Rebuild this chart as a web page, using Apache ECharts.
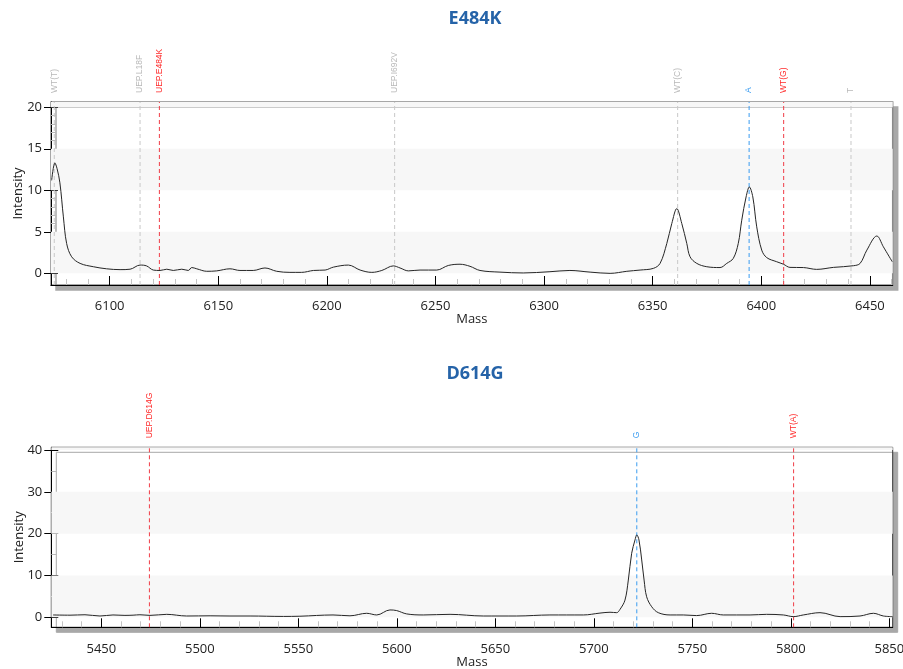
<!DOCTYPE html>
<html>
<head>
<meta charset="utf-8">
<script src="https://cdn.jsdelivr.net/npm/echarts@6/dist/echarts.min.js"></script>
<style>
html,body{margin:0;padding:0;background:#fff;}
#chart{width:903px;height:669px;}
</style>
</head>
<body>
<div id="chart"></div>
<script>
// ---------- E484K panel ----------
const topTitle = 'E484K';
const topMass = [6073.3, 6074.8, 6075.8, 6077.1, 6078.7, 6080.2, 6082.5, 6086.4, 6092.5, 6098.6, 6104.8, 6109.4, 6114.0, 6117.0, 6120.1, 6123.2, 6126.3, 6129.3, 6133.2, 6136.2, 6137.8, 6140.1, 6144.7, 6149.3, 6155.4, 6160.0, 6166.1, 6171.5, 6176.9, 6183.0, 6188.4, 6193.8, 6199.2, 6203.0, 6209.9, 6215.3, 6220.7, 6225.3, 6230.6, 6233.7, 6237.5, 6242.9, 6250.6, 6255.9, 6261.3, 6265.9, 6270.5, 6279.7, 6290.4, 6302.7, 6311.9, 6321.2, 6330.4, 6338.1, 6344.2, 6350.3, 6353.4, 6356.5, 6358.8, 6361.1, 6363.4, 6365.7, 6367.2, 6370.3, 6374.9, 6381.0, 6384.1, 6387.1, 6389.4, 6391.0, 6393.0, 6394.5, 6396.1, 6397.9, 6400.2, 6402.5, 6407.1, 6410.2, 6413.2, 6419.4, 6425.5, 6433.2, 6442.4, 6445.5, 6448.6, 6453.2, 6456.2, 6460.3];
const topIntensity = [11.2, 13.3, 12.6, 10.9, 6.8, 3.6, 2.0, 1.2, 0.8, 0.55, 0.45, 0.5, 1.0, 0.9, 0.4, 0.35, 0.5, 0.35, 0.5, 0.35, 0.7, 0.55, 0.25, 0.3, 0.55, 0.35, 0.35, 0.65, 0.25, 0.12, 0.12, 0.35, 0.4, 0.75, 1.0, 0.4, 0.12, 0.35, 0.9, 0.65, 0.3, 0.4, 0.4, 0.95, 1.1, 0.85, 0.35, 0.15, 0.05, 0.2, 0.35, 0.15, 0.0, 0.25, 0.4, 0.6, 1.2, 3.6, 6.0, 7.8, 6.0, 3.6, 2.0, 1.2, 0.8, 0.7, 1.2, 1.8, 3.6, 6.4, 9.2, 10.4, 9.2, 5.6, 2.8, 1.9, 1.4, 1.1, 0.72, 0.7, 0.48, 0.72, 0.92, 1.2, 2.8, 4.5, 3.2, 1.4];
const topMarkerNames = ['WT(T)', 'UEP.L18F', 'UEP.E484K', 'UEP.I692V', 'WT(C)', 'A', 'WT(G)', 'T'];
const topMarkerMass = [6074.5, 6114.0, 6122.9, 6231.2, 6361.5, 6394.4, 6410.3, 6441.3];
const topMarkerKind = ['grey', 'grey', 'red', 'grey', 'grey', 'blue', 'red', 'grey'];
const topXTicks = [6100, 6150, 6200, 6250, 6300, 6350, 6400, 6450];
const topYTicks = [0, 5, 10, 15, 20];
const topXRange = [6073, 6460.5];
const topYRange = [-1.4, 20.63];

// ---------- D614G panel ----------
const botTitle = 'D614G';
const botMass = [5425.5, 5434.1, 5441.7, 5449.3, 5455.9, 5462.0, 5466.1, 5469.6, 5474.7, 5483.2, 5493.3, 5505.2, 5515.3, 5525.5, 5542.4, 5550.8, 5567.6, 5576.2, 5584.7, 5589.8, 5596.5, 5599.9, 5605.0, 5613.4, 5627.0, 5643.9, 5660.8, 5677.7, 5694.7, 5703.1, 5708.2, 5711.6, 5713.3, 5715.8, 5717.5, 5719.2, 5720.9, 5721.8, 5722.9, 5724.3, 5725.5, 5726.8, 5729.4, 5732.7, 5738.7, 5745.4, 5752.2, 5759.8, 5765.7, 5779.3, 5787.7, 5796.2, 5801.3, 5806.3, 5814.8, 5825.0, 5835.1, 5841.9, 5847.0, 5851.7];
const botIntensity = [0.55, 0.5, 0.6, 0.3, 0.55, 0.45, 0.5, 0.6, 0.45, 0.7, 0.3, 0.35, 0.3, 0.3, 0.2, 0.25, 0.55, 0.35, 0.95, 0.55, 1.75, 1.6, 0.8, 0.55, 0.7, 0.3, 0.3, 0.55, 0.55, 1.0, 1.2, 1.1, 1.9, 4.1, 8.9, 15.3, 18.5, 19.7, 18.5, 13.7, 8.9, 4.9, 2.5, 1.1, 0.55, 0.55, 0.4, 0.95, 0.55, 0.55, 0.7, 0.55, 0.15, 0.55, 1.1, 0.15, 0.3, 0.95, 0.3, 0.15];
const botMarkerNames = ['UEP.D614G', 'G', 'WT(A)'];
const botMarkerMass = [5474.4, 5721.8, 5801.4];
const botMarkerKind = ['red', 'blue', 'red'];
const botXTicks = [5450, 5500, 5550, 5600, 5650, 5700, 5750, 5800, 5850];
const botYTicks = [0, 10, 20, 30, 40];
const botXRange = [5424.6, 5851.7];
const botYRange = [-2.4, 40.65];

// ---------- styling ----------
const FONT = 'Open Sans';
const labelColors = { grey: '#b8b8b8', red: '#ff2a2a', blue: '#3a9cf0' };
const lineColors = { grey: '#c8c8c8', red: '#f03c46', blue: '#3a9cf0' };
const plain = v => String(v);

function minorBetween(ticks, step, lo, hi) {
  const out = [];
  const start = Math.ceil(lo / step) * step;
  for (let v = start; v <= hi; v += step) {
    if (ticks.indexOf(v) < 0) out.push(v);
  }
  return out;
}

function panel(p, gi) {
  const xi = gi * 3, yi = gi * 3;
  const grid = Object.assign({
    show: true, backgroundColor: '#fff', borderColor: p.border, borderWidth: p.borderWidth,
    shadowColor: '#a8a8a8', shadowBlur: 0, shadowOffsetX: 5, shadowOffsetY: 5,
    containLabel: false, outerBoundsMode: 'none'
  }, p.gridPos);
  const xMinor = minorBetween(p.xTicks, 10, p.xRange[0], p.xRange[1]);
  const yMinor = minorBetween(p.yTicks, p.yMinorStep, 0, p.yRange[1]);
  const xAxes = [
    {
      type: 'value', gridIndex: gi, position: 'bottom', min: p.xRange[0], max: p.xRange[1],
      axisLine: { show: true, onZero: false, lineStyle: { color: '#000', width: 1 } },
      axisTick: { show: true, inside: true, length: 9, customValues: p.xTicks, lineStyle: { color: '#000' } },
      axisLabel: { customValues: p.xTicks, formatter: plain, margin: 15, fontSize: 13, color: '#222', fontFamily: FONT },
      splitLine: { show: false },
      name: 'Mass', nameLocation: 'middle', nameGap: 28, nameMoveOverlap: false,
      nameTextStyle: { fontSize: 13, color: '#222', fontFamily: FONT }
    },
    {
      type: 'value', gridIndex: gi, position: 'bottom', min: p.xRange[0], max: p.xRange[1],
      axisLine: { show: false, onZero: false },
      axisTick: { show: true, inside: true, length: 6, customValues: xMinor, lineStyle: { color: '#c4c4c4' } },
      axisLabel: { show: false }, splitLine: { show: false }
    },
    {
      type: 'value', gridIndex: gi, position: 'top', min: p.xRange[0], max: p.xRange[1],
      axisLine: { show: false, onZero: false }, axisTick: { show: false }, splitLine: { show: false },
      axisLabel: {
        customValues: p.markerMass, rotate: -90, margin: 9, fontSize: 8.5,
        fontFamily: 'Liberation Sans', showMinLabel: true, showMaxLabel: true,
        formatter: function (v) { const k = p.markerMass.indexOf(v); return k >= 0 ? p.markerNames[k] : ''; },
        color: function (v) { const k = p.markerMass.indexOf(typeof v === 'string' ? parseFloat(v) : v); return labelColors[p.markerKind[k]] || '#bbb'; }
      }
    }
  ];
  const yAxes = [
    {
      type: 'value', gridIndex: gi, position: 'left', min: p.yRange[0], max: p.yRange[1],
      axisLine: { show: true, onZero: false, lineStyle: { color: '#000', width: 1 } },
      axisTick: { show: true, length: 7, customValues: p.yTicks, lineStyle: { color: '#000' } },
      axisLabel: { customValues: p.yTicks, formatter: plain, margin: 9, fontSize: 13, color: '#222', fontFamily: FONT },
      splitLine: { show: false },
      name: 'Intensity', nameLocation: 'middle', nameGap: 26, nameMoveOverlap: false,
      nameTextStyle: { fontSize: 13, color: '#222', fontFamily: FONT }
    },
    {
      type: 'value', gridIndex: gi, position: 'left', min: p.yRange[0], max: p.yRange[1],
      axisLine: { show: false, onZero: false },
      axisTick: { show: true, inside: true, length: 7, customValues: p.yTicks, lineStyle: { color: '#000' } },
      axisLabel: { show: false }, splitLine: { show: false }
    },
    {
      type: 'value', gridIndex: gi, position: 'left', min: p.yRange[0], max: p.yRange[1],
      axisLine: { show: false, onZero: false },
      axisTick: { show: true, inside: true, length: 5, customValues: yMinor, lineStyle: { color: '#b8b8b8' } },
      axisLabel: { show: false }, splitLine: { show: false }
    }
  ];
  const bands = [];
  for (let i = 0; i < p.yTicks.length; i += 2) {
    const a = p.yTicks[i];
    const b = i + 1 < p.yTicks.length ? p.yTicks[i + 1] : p.yRange[1];
    bands.push([{ yAxis: a }, { yAxis: b }]);
  }
  const series = [{
    type: 'line', xAxisIndex: xi, yAxisIndex: yi,
    data: p.mass.map((m, i) => [m, p.intensity[i]]),
    showSymbol: false, symbol: 'none', smooth: 0.35,
    lineStyle: { color: '#262626', width: 1 },
    silent: true, animation: false, z: 3,
    markArea: { silent: true, itemStyle: { color: '#f7f7f7' }, data: bands }
  }];
  // each marker: a dashed vertical line series spanning the full y range
  p.markerMass.forEach(function (m, i) {
    const c = lineColors[p.markerKind[i]];
    series.push({
      type: 'line', xAxisIndex: xi, yAxisIndex: yi,
      data: [[m, p.yRange[0]], [m, p.yRange[1]]],
      showSymbol: false, symbol: 'none', silent: true, animation: false, z: 2,
      itemStyle: { color: c },
      lineStyle: { color: c, type: [4, 3], width: 1 }
    });
  });
  const title = {
    text: p.title, left: 470, top: p.titleTop, textAlign: 'center',
    textStyle: { fontFamily: FONT, fontWeight: 'bold', fontSize: 18, color: '#2563a8' }
  };
  return { grid, xAxes, yAxes, series, title };
}

const P1 = panel({
  title: topTitle, titleTop: 5, mass: topMass, intensity: topIntensity,
  markerNames: topMarkerNames, markerMass: topMarkerMass, markerKind: topMarkerKind,
  xTicks: topXTicks, yTicks: topYTicks, xRange: topXRange, yRange: topYRange, yMinorStep: 1,
  border: '#8a8a8a', borderWidth: 1.5,
  gridPos: { left: 51, top: 102, right: 10.3, height: 183 }
}, 0);
const P2 = panel({
  title: botTitle, titleTop: 360, mass: botMass, intensity: botIntensity,
  markerNames: botMarkerNames, markerMass: botMarkerMass, markerKind: botMarkerKind,
  xTicks: botXTicks, yTicks: botYTicks, xRange: botXRange, yRange: botYRange, yMinorStep: 5,
  border: '#333', borderWidth: 1,
  gridPos: { left: 51.3, top: 447.3, right: 10.3, height: 180 }
}, 1);

const chart = echarts.init(document.getElementById('chart'), null, { renderer: 'canvas' });
chart.setOption({
  backgroundColor: '#fff',
  animation: false,
  title: [P1.title, P2.title],
  grid: [P1.grid, P2.grid],
  xAxis: P1.xAxes.concat(P2.xAxes),
  yAxis: P1.yAxes.concat(P2.yAxes),
  series: P1.series.concat(P2.series)
});
</script>
</body>
</html>
